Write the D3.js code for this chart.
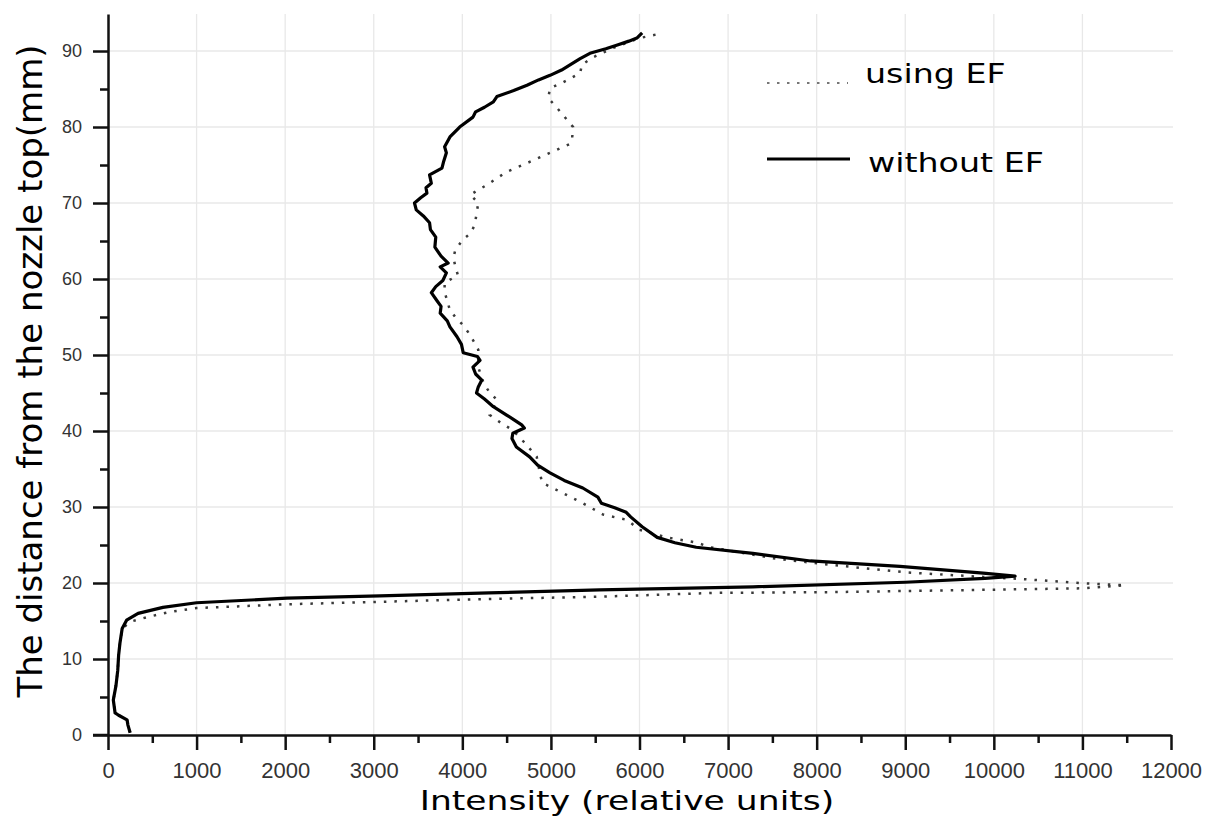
<!DOCTYPE html>
<html>
<head>
<meta charset="utf-8">
<script src="https://cdn.jsdelivr.net/npm/d3@7"></script>
<style>
  body { margin: 0; background: #fff; }
  svg { display: block; }
</style>
</head>
<body>
<svg id="chart" width="1216" height="821"></svg>
<script>
// intensity / distance, bottom to top
var withoutDist = [0.3, 1.3, 2.0, 2.6, 2.9, 4.6, 6.5, 8.5, 10.5, 12.1, 14.0, 15.1, 16.0, 16.8, 17.4, 18.0, 18.3, 18.7, 19.1, 19.5, 20.1, 20.6, 20.9,
  21.3, 22.2, 22.9, 23.9, 24.7, 25.3, 26.0, 27.4, 28.7, 29.3, 29.9, 30.5, 31.3, 32.5, 33.5, 34.5, 35.5, 36.6, 37.9, 39.0, 39.7, 40.4, 40.8, 41.5,
  42.1, 43.2, 44.2, 45.0, 45.8, 46.7, 47.5, 48.4, 49.3, 49.8, 50.3, 51.4, 52.4, 53.7, 54.5, 55.5, 56.4, 57.2, 58.2, 59.0, 59.8, 60.8, 61.6,
  62.1, 63.0, 64.2, 65.5, 66.5, 67.4, 68.3, 69.1, 70.0, 70.7, 71.3, 72.0, 72.6, 73.7, 74.6, 75.5, 76.6, 77.4, 78.7, 80.0, 81.3, 82.0, 82.6, 83.3,
  84.0, 84.8, 85.5, 86.2, 86.8, 87.5, 88.2, 89.0, 89.7, 90.3, 90.8, 91.3, 91.7, 92.4];
var withoutInt = [250, 225, 215, 120, 80, 60, 90, 110, 120, 135, 160, 210, 340, 620, 1000, 2020, 3070, 4300, 5550, 7280, 9000, 9900, 10240,
  9880, 8940, 7930, 7280, 6640, 6400, 6200, 6030, 5900, 5850, 5720, 5570, 5530, 5360, 5150, 4990, 4850, 4760, 4610, 4560, 4570, 4700, 4670, 4580,
  4500, 4350, 4250, 4160, 4180, 4220, 4150, 4120, 4200, 4170, 4010, 3990, 3940, 3860, 3830, 3750, 3760, 3710, 3650, 3700, 3780, 3820, 3750,
  3840, 3760, 3690, 3700, 3640, 3630, 3560, 3480, 3460, 3530, 3600, 3590, 3650, 3630, 3770, 3790, 3820, 3800, 3860, 3970, 4120, 4150, 4250, 4350,
  4390, 4580, 4730, 4860, 4990, 5120, 5220, 5330, 5440, 5620, 5750, 5880, 5970, 6030];

var usingDist = [0.3, 1.3, 2.0, 2.6, 2.9, 4.6, 6.5, 8.5, 10.5, 12.1, 14.0, 14.9, 15.5, 16.2, 16.7, 17.2, 17.5, 17.9, 18.2, 18.7, 18.8, 19.1,
  19.3, 19.7, 20.0, 20.5, 20.8, 21.4, 22.4, 23.2, 24.7, 25.3, 26.0, 27.0, 28.3, 29.0, 30.5, 31.8, 33.2, 34.8, 36.6, 38.5, 40.1, 41.2, 42.1,
  43.0, 44.1, 45.2, 46.3, 48.4, 50.7, 52.6, 53.9, 55.0, 55.9, 58.3, 59.5, 60.5, 61.7, 62.8, 63.8, 65.1, 66.0, 67.1, 70.0, 71.1, 72.4, 74.1,
  75.3, 76.6, 77.8, 78.6, 80.0, 82.5, 83.8, 85.1, 85.9, 87.1, 88.2, 89.2, 90.4, 91.7, 92.2];
var usingInt = [250, 225, 215, 120, 80, 60, 90, 110, 120, 135, 160, 250, 440, 700, 1000, 2020, 2990, 4300, 5550, 6850, 8150, 9880,
  11000, 11480, 10960, 10350, 9880, 9010, 8150, 7540, 6800, 6650, 6310, 6000, 5860, 5590, 5360, 5140, 4900, 4870, 4840, 4700, 4570, 4420, 4310,
  4350, 4390, 4300, 4240, 4180, 4180, 4090, 4010, 3920, 3860, 3800, 3800, 3950, 3920, 3900, 3920, 4000, 4090, 4140, 4180, 4090, 4280, 4500,
  4740, 4990, 5220, 5240, 5250, 5070, 4970, 4990, 5140, 5330, 5350, 5480, 5700, 6000, 6200];

var xTicks = [0, 1000, 2000, 3000, 4000, 5000, 6000, 7000, 8000, 9000, 10000, 11000, 12000];
var xMinor = [500, 1500, 2500, 3500, 4500, 5500, 6500, 7500, 8500, 9500, 10500, 11500];
var yTicks = [0, 10, 20, 30, 40, 50, 60, 70, 80, 90];
var yMinor = [5, 15, 25, 35, 45, 55, 65, 75, 85];
var seriesNames = ["using EF", "without EF"];

drawChart();

function drawChart() {
  var svg = d3.select("#chart");
  var plotLeft = 108, plotRight = 1171, plotTop = 14, plotBottom = 735;

  var x = d3.scaleLinear().domain([0, 12000]).range([plotLeft, plotRight]);
  var y = d3.scaleLinear().domain([0, 94.87]).range([plotBottom, plotTop]);

  // grid
  svg.append("g").selectAll("line").data(xTicks.slice(1, -1)).join("line")
    .attr("x1", d => x(d)).attr("x2", d => x(d)).attr("y1", plotTop).attr("y2", plotBottom)
    .attr("stroke", "#e8e8e8").attr("stroke-width", 1.3);
  svg.append("g").selectAll("line").data(yTicks.slice(1)).join("line")
    .attr("x1", plotLeft).attr("x2", plotRight + 2).attr("y1", d => y(d)).attr("y2", d => y(d))
    .attr("stroke", "#e8e8e8").attr("stroke-width", 1.3);

  // lines
  var line = d3.line().x(d => x(d[0])).y(d => y(d[1]));
  var usingPts = usingInt.map((v, i) => [v, usingDist[i]]);
  var withoutPts = withoutInt.map((v, i) => [v, withoutDist[i]]);

  svg.append("path").datum(usingPts)
    .attr("d", line).attr("fill", "none")
    .attr("stroke", "#3a3a3a").attr("stroke-width", 2.5)
    .attr("stroke-dasharray", "2.5,8");

  svg.append("path").datum(withoutPts)
    .attr("d", line).attr("fill", "none")
    .attr("stroke", "#000").attr("stroke-width", 3.2).attr("stroke-linejoin", "round");

  // axes
  var xAxis = svg.append("g").attr("transform", `translate(0,${plotBottom})`)
    .call(d3.axisBottom(x).tickValues(xTicks).tickFormat(d3.format("d"))
      .tickSize(15).tickSizeOuter(0).tickPadding(12));
  svg.append("g").attr("transform", `translate(0,${plotBottom})`)
    .call(d3.axisBottom(x).tickValues(xMinor).tickSize(8).tickFormat(""))
    .call(g => g.select(".domain").remove());
  var yAxis = svg.append("g").attr("transform", `translate(${plotLeft},0)`)
    .call(d3.axisLeft(y).tickValues(yTicks).tickSize(15).tickSizeOuter(0).tickPadding(11));
  svg.append("g").attr("transform", `translate(${plotLeft},0)`)
    .call(d3.axisLeft(y).tickValues(yMinor).tickSize(8).tickFormat(""))
    .call(g => g.select(".domain").remove());

  svg.selectAll(".domain").attr("stroke", "#111").attr("stroke-width", 2.5);
  svg.selectAll(".tick line").attr("stroke", "#111").attr("stroke-width", 2.5);
  xAxis.selectAll(".tick text")
    .style("font-family", "'Liberation Sans', Arial, sans-serif")
    .style("font-size", "22px").attr("fill", "#333");
  yAxis.selectAll(".tick text")
    .style("font-family", "'Liberation Sans', Arial, sans-serif")
    .style("font-size", "18px").attr("fill", "#333");
  // x axis line reaches the left end of the y ticks
  svg.append("line").attr("x1", plotLeft - 15).attr("x2", plotLeft).attr("y1", plotBottom).attr("y2", plotBottom)
    .attr("stroke", "#111").attr("stroke-width", 2.5);

  // titles
  svg.append("text")
    .attr("transform", "translate(627,810) scale(1.28,1)")
    .attr("text-anchor", "middle")
    .attr("font-family", "DejaVu Sans, sans-serif").attr("font-size", 27)
    .text("Intensity (relative units)");

  svg.append("text")
    .attr("transform", "translate(42,371) rotate(-90)")
    .attr("text-anchor", "middle")
    .attr("font-family", "DejaVu Sans, sans-serif").attr("font-size", 34)
    .text("The distance from the nozzle top(mm)");

  // legend
  var legend = svg.append("g");
  legend.append("line").attr("x1", 767).attr("x2", 848).attr("y1", 83).attr("y2", 83)
    .attr("stroke", "#777").attr("stroke-width", 2.2).attr("stroke-dasharray", "2.5,7.5");
  legend.append("line").attr("x1", 767).attr("x2", 850).attr("y1", 159).attr("y2", 159)
    .attr("stroke", "#000").attr("stroke-width", 3);
  legend.selectAll("text").data(seriesNames).join("text")
    .attr("transform", (d, i) => `translate(${i ? 868 : 865},${i ? 172 : 83}) scale(1.28,1)`)
    .attr("font-family", "DejaVu Sans, sans-serif").attr("font-size", 26)
    .text(d => d);
}
</script>
</body>
</html>
